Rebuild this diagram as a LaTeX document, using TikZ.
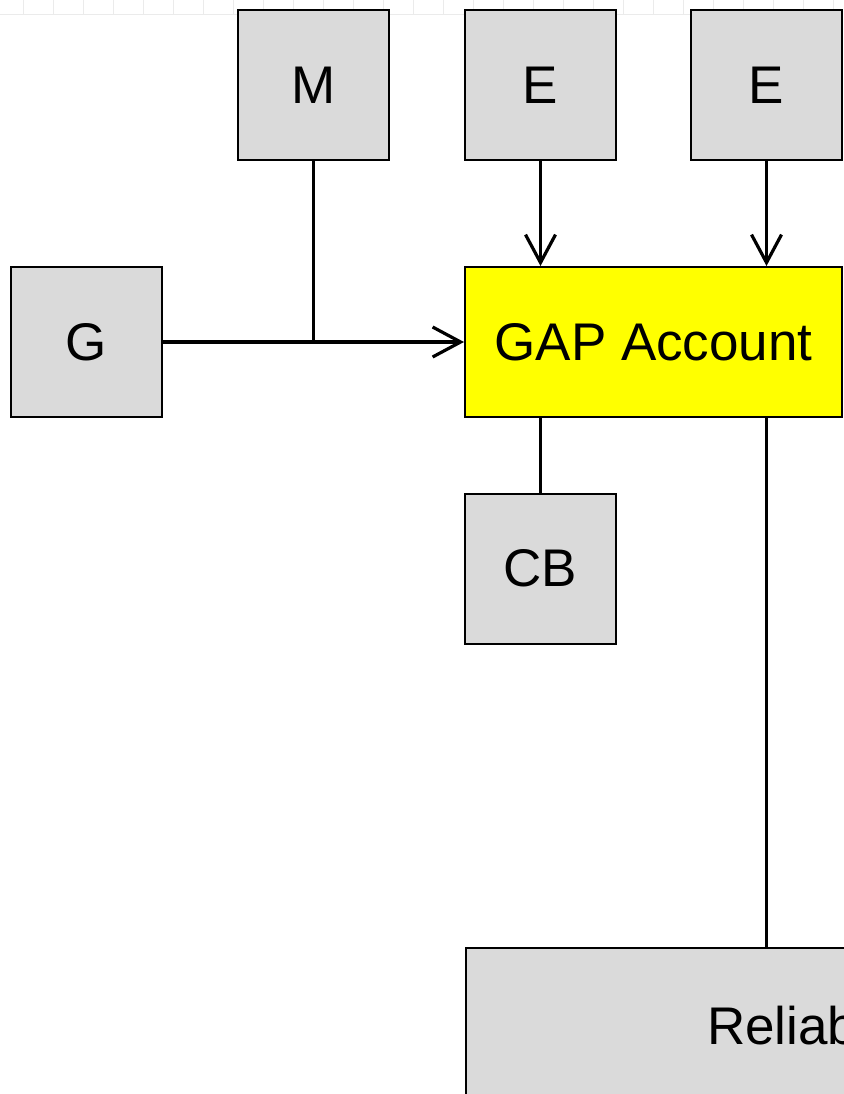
\documentclass[tikz,border=0pt]{standalone}
\usepackage{fontspec}
\setmainfont{Liberation Sans}
\usetikzlibrary{arrows.meta}
\begin{document}
\begin{tikzpicture}[x=1pt,y=-1pt,
  box/.style={draw=black, line width=2pt, fill=boxgray, minimum width=151pt,
    minimum height=150pt, inner sep=0pt, font=\fontsize{53}{60}\selectfont},
  hub/.style={box, fill=hubyellow, minimum width=377pt},
  link/.style={line width=3.2pt},
  flow/.style={link, -{Straight Barb[length=28pt,width=30pt,line width=3.2pt]}},
  faint/.style={draw=black!8, line width=1pt}]
\definecolor{boxgray}{HTML}{DADADA}
\definecolor{hubyellow}{RGB}{255,255,0}
\useasboundingbox (0,0) rectangle (843,1094);
% faint grid strip along the top edge
\foreach \gx in {23,53,...,843} \draw[faint] (\gx,0) -- (\gx,15);
\draw[faint] (0,15) -- (843,15);
% nodes
\node[box] (m)  at (313.5,85) {M};
\node[box] (e1) at (540.5,85) {E};
\node[box] (e2) at (766.5,85) {E};
\node[box] (g)  at (86.5,342) {G};
\node[hub] (gap) at (653.5,342) {GAP Account};
\node[box] (cb) at (540.5,568.5) {CB};
\node[box, anchor=north west, minimum width=700pt, minimum height=156pt,
  inner xsep=241pt, text width=218pt, align=left] (rel) at (465,947) {Reliab};
\coordinate (j) at (m.south |- g.east);
% connectors
\draw[link] (m.south) -- (j);
\draw[flow] (g.east) -- (gap.west);
\draw[flow] (e1.south) -- (e1.south |- gap.north);
\draw[flow] (e2.south) -- (e2.south |- gap.north);
\draw[link] (cb.north |- gap.south) -- (cb.north);
\draw[link] (e2.south |- gap.south) -- (e2.south |- rel.north);
\end{tikzpicture}
\end{document}
